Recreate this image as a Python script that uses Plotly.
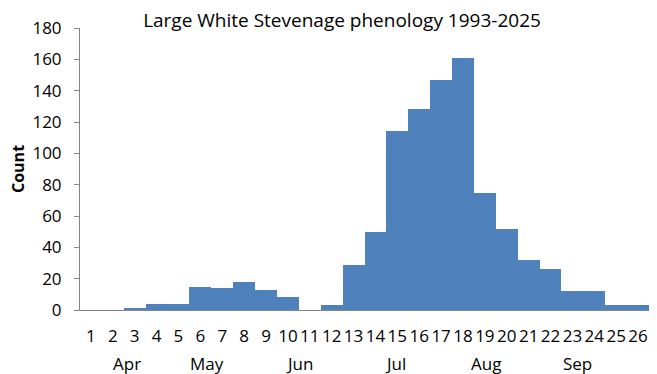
import plotly.graph_objects as go

weeks = list(range(1, 27))
week_labels = [str(w) for w in weeks]
counts = [0, 0, 1, 4, 4, 15, 14, 18, 13, 8, 0, 3, 29, 50, 114, 128, 147, 161, 75, 52, 32, 26, 12, 12, 3, 3]
months = ["Apr", "May", "Jun", "Jul", "Aug", "Sep"]
month_pos = [2.65, 6.32, 10.55, 14.9, 19.04, 23.24]
y_ticks = list(range(0, 181, 20))

FONT = "Open Sans"
W, H = 649, 366  # page body adds an 8px margin
fig = go.Figure()
fig.add_trace(go.Bar(x=weeks, y=counts, marker=dict(color="#4F81BD", line=dict(width=0)),
                     width=1.0, showlegend=False))

fig.update_layout(
    width=W, height=H,
    margin=dict(l=72, r=8, t=14, b=64),
    plot_bgcolor="white", paper_bgcolor="white",
    bargap=0,
    font=dict(family=FONT, size=17, color="black"),
    title=dict(text="Large White Stevenage phenology 1993-2025", x=334/W, xanchor="center",
               y=1 - 12/H, yanchor="middle", font=dict(family=FONT, size=19, color="black")),
)
fig.update_xaxes(range=[0.5, 26.5], tickmode="array", tickvals=weeks, ticktext=week_labels,
                 tickangle=0, ticks="", showline=True, linecolor="#868686", linewidth=1,
                 showgrid=False, zeroline=False, ticklabelstandoff=11,
                 tickfont=dict(family=FONT, size=17, color="black"))
fig.update_yaxes(range=[0, 180], tickmode="array", tickvals=y_ticks, ticks="outside", ticklen=5,
                 tickcolor="#868686", showline=True, linecolor="#868686", linewidth=1,
                 showgrid=False, zeroline=False, ticklabelstandoff=9,
                 tickfont=dict(family=FONT, size=17, color="black"))

for m, p in zip(months, month_pos):
    fig.add_annotation(x=p, y=0, xref="x", yref="paper", text=m, showarrow=False,
                       yshift=-53, xanchor="center", yanchor="middle",
                       font=dict(family=FONT, size=17, color="black"))

fig.add_annotation(x=(10 - 72) / 569, y=0.5, xref="paper", yref="paper", text="<b>Count</b>",
                   textangle=-90, showarrow=False, xanchor="center", yanchor="middle",
                   font=dict(family=FONT, size=16, color="black"))

fig.write_html("out.html")
